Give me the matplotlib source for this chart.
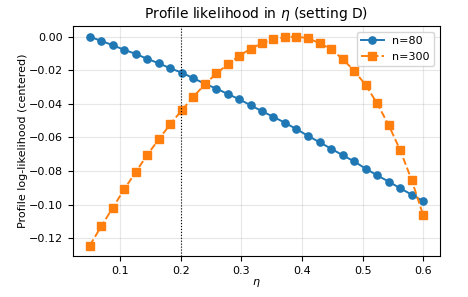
import matplotlib
matplotlib.use("Agg")
import matplotlib.pyplot as plt

# eta grid (30 points between 0.05 and 0.6)
eta = [0.05, 0.069, 0.088, 0.107, 0.126, 0.145, 0.164, 0.183, 0.202, 0.221,
       0.240, 0.259, 0.278, 0.297, 0.316, 0.334, 0.353, 0.372, 0.391, 0.410,
       0.429, 0.448, 0.467, 0.486, 0.505, 0.524, 0.543, 0.562, 0.581, 0.60]

ll_n80 = [0.0, -0.0026, -0.0051, -0.0079, -0.0103, -0.0133, -0.0159, -0.0189, -0.0215, -0.0248,
          -0.0281, -0.0310, -0.0342, -0.0374, -0.0410, -0.0444, -0.0478, -0.0513, -0.0551, -0.0591,
          -0.0629, -0.0667, -0.0706, -0.0743, -0.0786, -0.0826, -0.0863, -0.0903, -0.0941, -0.0980]

ll_n300 = [-0.1244, -0.1130, -0.1019, -0.0909, -0.0806, -0.0704, -0.0611, -0.0521, -0.0438, -0.0358,
           -0.0284, -0.0219, -0.0165, -0.0113, -0.0072, -0.0039, -0.0016, -0.0004, 0.0, -0.0010,
           -0.0039, -0.0075, -0.0133, -0.0203, -0.0288, -0.0398, -0.0527, -0.0676, -0.0855, -0.1064]

eta_true = 0.2

fig, ax = plt.subplots(figsize=(4.68, 2.97), dpi=100)
ax.plot(eta, ll_n80, marker="o", ms=5.2, lw=1.4, label="n=80")
ax.plot(eta, ll_n300, marker="s", ms=5.2, lw=1.4, ls="--", label="n=300")
ax.axvline(eta_true, color="black", ls=":", lw=0.8)
ax.set_xlabel(r"$\eta$", fontsize=8, labelpad=1)
ax.set_ylabel("Profile log-likelihood (centered)", fontsize=8, labelpad=1)
ax.set_title(r"Profile likelihood in $\eta$ (setting D)", fontsize=10)
ax.tick_params(labelsize=8)
ax.legend(fontsize=8)
ax.grid(alpha=0.3)
fig.subplots_adjust(left=0.156, right=0.940, top=0.912, bottom=0.138)
fig.savefig("out.png", dpi=100)
